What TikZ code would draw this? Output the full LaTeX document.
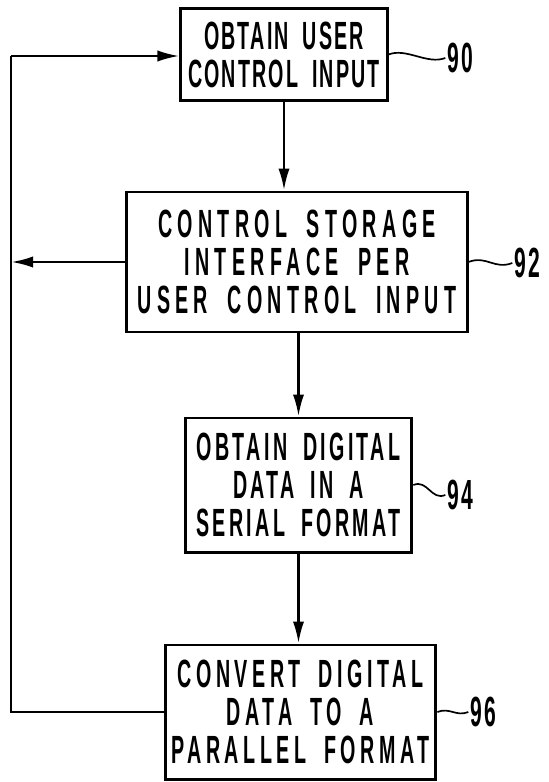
\documentclass[tikz,border=0pt]{standalone}
\usepackage{fontspec}
\setmainfont{Liberation Sans}[FakeStretch=0.5, LetterSpace=6, WordSpace=1.8]
\usepackage{tikz}
\usetikzlibrary{positioning,arrows.meta}

\begin{document}
\begin{tikzpicture}[x=0.025cm, y=-0.025cm,
    stepbox/.style={draw, line width=2.1pt, align=center, inner sep=0pt,
        font=\fontsize{28}{27}\selectfont\bfseries\addfontfeature{LetterSpace=#1}},
    stepbox/.default=6,
    flow/.style={line width=1.9pt, -{Latex[length=5.5mm,width=2.8mm]}},
    refnum/.style={font=\fontsize{30}{32}\selectfont\bfseries, inner sep=1pt},
    leader/.style={line width=1.2pt}]
\useasboundingbox (0,0) rectangle (548,782);

\node[stepbox=5.5, minimum width=5.15cm, minimum height=2.32cm] (step_90) at (284,54.5) {OBTAIN USER\\CONTROL INPUT};
\node[stepbox=13.5, minimum width=8.5cm, minimum height=3.5cm] (step_92) at (297,262) {CONTROL STORAGE\\INTERFACE PER\\USER CONTROL INPUT};
\node[stepbox=8.5, minimum width=5.67cm, minimum height=3.35cm] (step_94) at (298.5,485) {OBTAIN DIGITAL\\DATA IN A\\SERIAL FORMAT};
\node[stepbox=11.5, minimum width=6.77cm, minimum height=3.35cm] (step_96) at (300.5,712) {CONVERT DIGITAL\\DATA TO A\\PARALLEL FORMAT};

\node[refnum] (ref_90) at (460,58) {90};
\node[refnum] (ref_92) at (527,263) {92};
\node[refnum] (ref_94) at (460,495) {94};
\node[refnum] (ref_96) at (483,712) {96};

\coordinate (loop_top) at (11,56);
\coordinate (loop_mid) at (11,262);
\coordinate (loop_bottom) at (11,712);

\draw[flow] (step_90.south) -- (step_90.south |- step_92.north);
\draw[flow] (step_92.south -| step_94.north) -- (step_94.north);
\draw[flow] (step_94.south) -- (step_94.south |- step_96.north);

\draw[line width=1.9pt] (step_96.west) -- (loop_bottom) -- (loop_top);
\draw[flow] (loop_top) -- (loop_top -| step_90.west);
\draw[flow] (step_92.west) -- (loop_mid);

\draw[leader] (step_90.east) .. controls +(18,-7) and +(-18,7) .. (ref_90.west);
\draw[leader] (step_92.east) .. controls +(18,-7) and +(-18,7) .. (ref_92.west);
\draw[leader] (step_94.east) .. controls +(14,-6) and +(-14,6) .. (ref_94.west);
\draw[leader] (step_96.east) .. controls +(12,-5) and +(-12,5) .. (ref_96.west);

\end{tikzpicture}
\end{document}
